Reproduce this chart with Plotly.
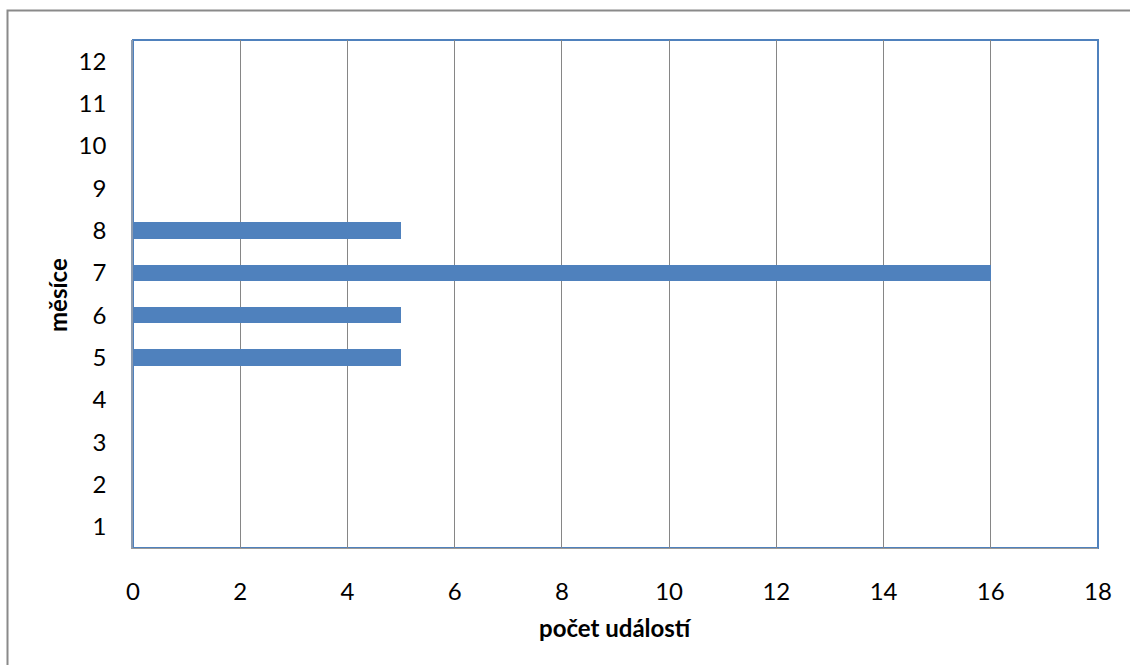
import plotly.graph_objects as go

# events per month
months = [1, 2, 3, 4, 5, 6, 7, 8, 9, 10, 11, 12]
events = [0, 0, 0, 0, 5, 5, 16, 5, 0, 0, 0, 0]
x_ticks = [0, 2, 4, 6, 8, 10, 12, 14, 16, 18]

BAR_BLUE = "#4F81BD"
GRID_GREY = "#868686"
FONT = "Lato"
SIZE = 24

fig = go.Figure()
fig.add_trace(go.Bar(
    x=events,
    y=months,
    orientation="h",
    width=0.38,
    marker=dict(color=BAR_BLUE, line=dict(width=0)),
    hoverinfo="x+y",
))

W, H = 1130, 665
L, R, T, B = 133, 32, 40, 117
pw, ph = W - L - R, H - T - B

def px_x(px):
    return (px - L) / pw

def px_y(py):
    return (H - B - py) / ph

fig.update_layout(
    width=W,
    height=H,
    margin=dict(l=L, r=R, t=T, b=B),
    paper_bgcolor="white",
    plot_bgcolor="white",
    showlegend=False,
    bargap=0,
    font=dict(family=FONT, size=SIZE, color="black"),
    xaxis=dict(
        range=[0, 18],
        tickvals=x_ticks,
        ticks="",
        showgrid=True,
        gridcolor=GRID_GREY,
        gridwidth=1,
        zeroline=False,
        showline=True,
        linecolor="#9A9A9A",
        linewidth=1.2,
        ticklabelstandoff=22,
        tickfont=dict(family=FONT, size=SIZE),
    ),
    yaxis=dict(
        range=[0.5, 12.5],
        tickvals=months,
        ticks="",
        showgrid=False,
        zeroline=False,
        showline=True,
        linecolor="#8C9BB0",
        linewidth=1.5,
        ticklabelstandoff=20,
        tickfont=dict(family=FONT, size=SIZE),
    ),
    shapes=[
        # plot area frame
        dict(type="rect", xref="paper", yref="paper", x0=0, y0=0, x1=1, y1=1,
             line=dict(color=BAR_BLUE, width=2), layer="below"),
        # chart area frame
        dict(type="rect", xref="paper", yref="paper",
             x0=px_x(7.5), y0=px_y(690), x1=px_x(1150), y1=px_y(10.5),
             line=dict(color="#8A8A8A", width=2), layer="below"),
    ],
    annotations=[
        dict(text="<b>počet událostí</b>", xref="paper", yref="paper",
             x=px_x(615), y=px_y(627), showarrow=False,
             xanchor="center", yanchor="middle",
             font=dict(family=FONT, size=SIZE)),
        dict(text="<b>měsíce</b>", xref="paper", yref="paper",
             x=px_x(57), y=px_y(295), showarrow=False, textangle=-90,
             xanchor="center", yanchor="middle",
             font=dict(family=FONT, size=SIZE)),
    ],
)

fig.write_html("out.html")
